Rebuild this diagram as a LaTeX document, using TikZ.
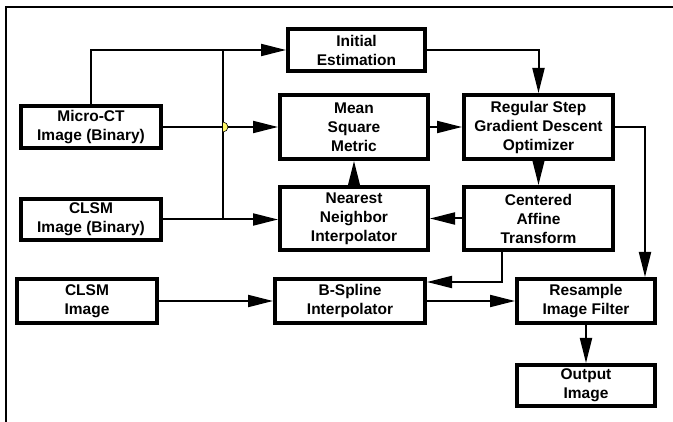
\documentclass[tikz,border=0pt]{standalone}
\usepackage{fontspec}
\setmainfont{Liberation Sans}
\usetikzlibrary{arrows.meta, positioning, calc}

\begin{document}
\begin{tikzpicture}[
  x=1pt, y=-1pt,
  flowbox/.style={draw, line width=4pt, minimum width=140pt, minimum height=42pt, align=center, font=\fontsize{15.5}{19}\selectfont\bfseries, inner sep=1pt},
  link/.style={line width=2pt, -{Triangle[length=25pt, width=12pt]}},
  plain/.style={line width=2pt}
]
  \useasboundingbox (0,0) rectangle (673,422);
  \draw[plain] (6,422) -- (6,7) -- (673,7);

  % inputs
  \node[flowbox] (microct) at (91,127) {Micro-CT\\Image (Binary)};
  \node[flowbox, minimum height=41pt] (clsmbin) at (91,219.5) {CLSM\\Image (Binary)};
  \node[flowbox, minimum height=44pt] (clsmimg) at (87,301) {CLSM\\Image};

  % registration
  \node[flowbox, minimum width=137pt] (initest) at (356.5,50) {Initial\\Estimation};
  \node[flowbox, minimum width=148pt, minimum height=64pt] (metric) at (354,127) {Mean\\Square\\Metric};
  \node[flowbox, minimum width=149pt, minimum height=64pt] (optim) at (538.5,127) {Regular Step\\Gradient Descent\\Optimizer};
  \node[flowbox, minimum width=148pt, minimum height=63pt] (nearest) at (354,218.5) {Nearest\\Neighbor\\Interpolator};
  \node[flowbox, minimum width=149pt, minimum height=63pt] (affine) at (538.5,218.5) {Centered\\Affine\\Transform};

  % resampling
  \node[flowbox, minimum width=150pt, minimum height=44pt] (bspline) at (350,301) {B-Spline\\Interpolator};
  \node[flowbox, minimum width=138pt, minimum height=44pt] (resample) at (586,301) {Resample\\Image Filter};
  \node[flowbox, minimum width=138pt, minimum height=41pt] (output) at (586,385.5) {Output\\Image};

  \coordinate (trunktop) at (223,51);
  \coordinate (trunkbot) at (223,219);
  \coordinate (hop) at (223,127);

  \draw[link] (microct.north) |- (initest.west);
  \draw[plain] (trunktop) -- (trunkbot);
  \draw[link] (microct.east) -- (microct.east -| metric.west);
  \draw[fill=yellow!60, line width=0.6pt] (hop) ++(0,-5) arc (-90:90:5);
  \draw[link] (clsmbin.east) -- (clsmbin.east -| nearest.west);

  \draw[link] (initest.east) -| (optim.north);
  \draw[link] (metric.east) -- (optim.west);
  \draw[link] (optim.south) -- (affine.north);
  \draw[link] (optim.east) -| ([xshift=-12pt]resample.north east);
  \draw[link] (affine.west) -- (nearest.east);
  \draw[link] (nearest.north) -- (metric.south);
  \draw[link] ([xshift=-37pt]affine.south) |- ([yshift=19pt]bspline.east);

  \draw[link] (clsmimg.east) -- (bspline.west);
  \draw[link] (bspline.east) -- (resample.west);
  \draw[link] (resample.south) -- (output.north);
\end{tikzpicture}
\end{document}
